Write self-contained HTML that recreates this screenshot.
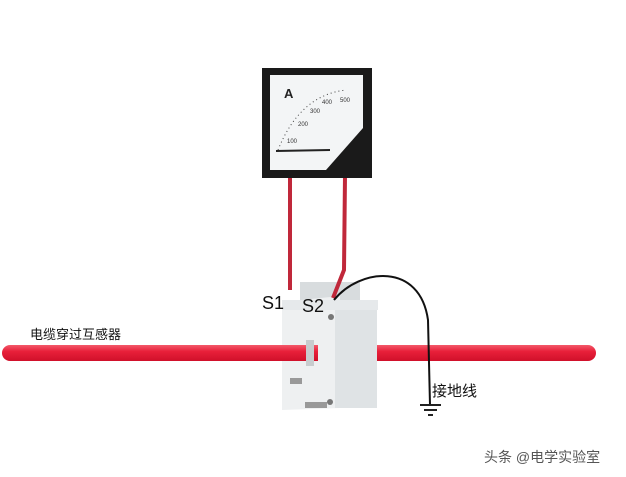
<!DOCTYPE html>
<html><head><meta charset="utf-8"><style>
html,body{margin:0;padding:0;background:#fff;}
svg{display:block;}
text{font-family:"Liberation Sans","Noto Sans CJK SC",sans-serif;}
</style></head><body>
<svg width="626" height="477" viewBox="0 0 626 477" xmlns="http://www.w3.org/2000/svg">
<rect width="626" height="477" fill="#fff"/>
<defs>
<linearGradient id="cab" x1="0" y1="0" x2="0" y2="1">
<stop offset="0" stop-color="#f35a6a"/><stop offset="0.4" stop-color="#e8203a"/><stop offset="1" stop-color="#d0102a"/>
</linearGradient>
</defs>
<rect x="2" y="345" width="594" height="16" rx="8" fill="url(#cab)"/>
<rect x="300" y="282" width="60" height="20" fill="#d8dcde"/>
<polygon points="282,302 340,296 340,408 282,410" fill="#eef0f1"/>
<rect x="335" y="308" width="42" height="100" fill="#dfe3e5"/>
<rect x="282" y="300" width="96" height="10" fill="#e6e9eb"/>
<rect x="282" y="345" width="36" height="16" fill="url(#cab)"/>
<rect x="306" y="340" width="8" height="26" fill="#c8ccce"/>
<rect x="290" y="378" width="12" height="6" fill="#999"/>
<rect x="305" y="402" width="22" height="6" fill="#999"/>
<circle cx="331" cy="317" r="3" fill="#777"/>
<circle cx="330" cy="402" r="3" fill="#777"/>
<path d="M290 176 L290 290" stroke="#c0283a" stroke-width="4" fill="none"/>
<path d="M345 176 L344 270 L333 298" stroke="#c0283a" stroke-width="4" fill="none"/>
<path d="M334 300 C360 268 420 262 428 320 L430 405" stroke="#111" stroke-width="2" fill="none"/>
<line x1="420" y1="405" x2="441" y2="405" stroke="#222" stroke-width="2"/>
<line x1="424" y1="410" x2="437" y2="410" stroke="#222" stroke-width="2"/>
<line x1="428" y1="415" x2="433" y2="415" stroke="#222" stroke-width="2"/>
<rect x="262" y="68" width="110" height="110" fill="#1a1a1a"/>
<rect x="270" y="75" width="93" height="95" fill="#f3f5f6"/>
<polygon points="363,128 363,170 326,170" fill="#1a1a1a"/>
<path d="M278 150 Q300 95 346 90" stroke="#444" stroke-width="1" fill="none" stroke-dasharray="1 3"/>
<text x="284" y="98" font-size="13" font-weight="bold" fill="#222">A</text>
<text x="287" y="143" font-size="6" fill="#333">100</text>
<text x="298" y="126" font-size="6" fill="#333">200</text>
<text x="310" y="113" font-size="6" fill="#333">300</text>
<text x="322" y="104" font-size="6" fill="#333">400</text>
<text x="340" y="102" font-size="6" fill="#333">500</text>
<line x1="276" y1="151" x2="330" y2="150" stroke="#222" stroke-width="2"/>
<text x="30" y="339" font-size="13" fill="#111">电缆穿过互感器</text>
<text x="262" y="309" font-size="18" fill="#111">S1</text>
<text x="302" y="312" font-size="18" fill="#111">S2</text>
<text x="432" y="396" font-size="15" fill="#111">接地线</text>
<text x="484" y="462" font-size="14" fill="#555">头条 @电学实验室</text>
</svg>
</body></html>
